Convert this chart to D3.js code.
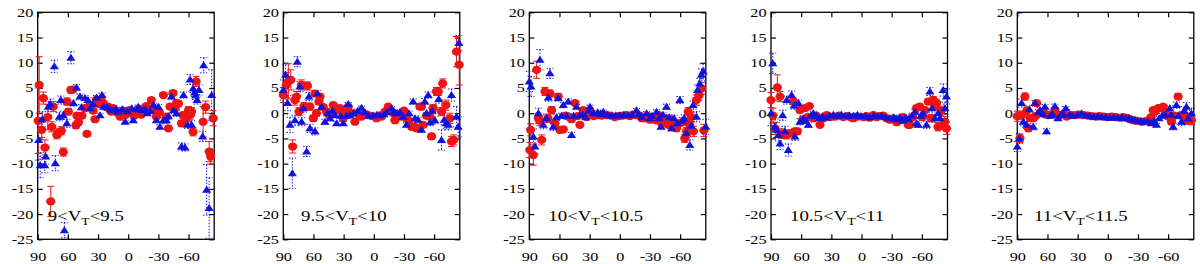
<!DOCTYPE html>
<html><head><meta charset="utf-8">
<script src="https://cdn.jsdelivr.net/npm/d3@7"></script>
<style>body{margin:0;background:#fff}svg{display:block}</style>
</head><body><svg id="c" width="1200" height="264"></svg>
<script>
// ---- data: [declination, delta, error] ----
const xTicks = [90,60,30,0,-30,-60];
const yTicks = [20,15,10,5,0,-5,-10,-15,-20,-25];
const labelLow = ["9","9.5","10","10.5","11"];
const labelHigh = ["9.5","10","10.5","11","11.5"];

const redP1 = [[89.5,-1.5,6.5],[88.5,5.6,5.6],[86,-3.3,1.5],[84.4,3,1.2],[82.8,-6.8,1.5],[80,-0.8,2.5],[77,-17.5,3],[76,-2.7,1],[74.5,1.3,1],[71,-4.3,0.8],[69.5,-3.9,0.8],[66.5,-3.5,0.8],[64.5,-7.7,0.8],[61,2.3,0.7],[59.5,0.3,0.6],[57,4.6,0.6],[55,4.7,0.6],[52,-2.4,0.6],[51,-0.5,0.5],[49.5,-1.8,0.5],[46,-0.5,0.5],[43,1,0.5],[41,-4.1,0.5],[38,1.6,0.5],[35,0.5,0.4],[33,-1.2,0.4],[31.5,2.7,0.4],[29,1.8,0.4],[27,2.6,0.4],[25,2,0.4],[22,1.2,0.3],[20,1.3,0.3],[17,0.3,0.3],[15,1,0.3],[12,0.2,0.3],[8,-0.7,0.3],[5,0.5,0.3],[3,-0.4,0.3],[0,0.5,0.3],[-3.5,0,0.3],[-6,-0.5,0.3],[-8,0.3,0.3],[-11,0.8,0.3],[-13,-0.3,0.3],[-16,0.5,0.3],[-18,1.4,0.4],[-21,0.5,0.4],[-23,2.6,0.4],[-25.5,0.6,0.4],[-28,-0.7,0.4],[-31,0.2,0.4],[-35,3.6,0.5],[-38,-0.7,0.5],[-40,-3,0.5],[-41.5,1.3,0.5],[-44.5,4,0.5],[-46.5,1,0.6],[-48,2,0.6],[-50,1.9,0.6],[-53,-2,0.6],[-54.5,-0.4,0.6],[-56.5,-0.4,0.7],[-58,-1,0.7],[-60,0.6,0.7],[-61.5,-0.4,0.8],[-63,0.3,0.8],[-64.5,-3.7,0.8],[-67.5,6.3,1],[-74.5,-1.7,3],[-77,1.2,1.2],[-80.5,-7.6,2],[-82,-8.6,1.5],[-84.5,-1,1.5]];
const blueP1 = [[89,-5.3,4],[87.5,-10.3,2.5],[85.5,-1.2,1.5],[83,-10.3,1.5],[82,-8.6,1.5],[79.5,1.3,1],[77.5,1.8,1],[73.5,9.3,1.2],[72.5,-9.9,1.5],[68.5,-0.7,0.8],[67,2.6,0.8],[64.5,-0.4,0.8],[63.5,-23.2,1.5],[61,-2,0.8],[57,11,1.2],[54.5,2,0.6],[51.5,5.1,0.6],[48,3.3,0.5],[46.5,1.2,0.5],[43,3,0.5],[40,2.6,0.5],[38,1,0.5],[35,1.8,0.4],[31.5,3.1,0.4],[28,-0.4,0.4],[26,3.6,0.4],[24.5,1.3,0.4],[21,1.2,0.3],[18,0.8,0.3],[15,0.6,0.3],[12,0.9,0.3],[10,0.3,0.3],[6,0.8,0.3],[3,-1.7,0.3],[1,0.4,0.3],[-3.5,1,0.3],[-5,-1.4,0.3],[-8,0.8,0.3],[-10,1.3,0.3],[-14,0.6,0.3],[-17,0.8,0.3],[-19,0,0.3],[-22,0.5,0.4],[-25,1.6,0.4],[-28,-1.4,0.4],[-30,1.3,0.4],[-31.5,-2.7,0.4],[-35,-1.4,0.5],[-36.5,-1.4,0.5],[-38,-1.4,0.5],[-40,-0.6,0.5],[-43,3.3,0.5],[-45,0.6,0.5],[-48,0,0.6],[-53,-6.6,0.7],[-55,3.6,0.6],[-56.5,-6.8,0.7],[-59,-2.3,0.7],[-61.5,6.7,1],[-63,-2.3,0.8],[-64.5,4.9,0.8],[-66,4.1,0.8],[-67,3.5,0.8],[-68.5,2.6,0.8],[-70.5,4.6,1],[-74,-4.6,1],[-75,9.5,1.5],[-78,-15.2,5],[-80.5,-18.8,6],[-83,3.6,5]];

const redP2 = [[90,3.6,1.5],[87,5.6,2.5],[85,6.3,3.5],[82.5,6.6,2],[80.7,-6.6,1.3],[78.4,2.6,1],[76.8,3.3,1],[74.4,0.3,0.8],[72,5.6,1],[69.5,1.3,0.8],[66,5.4,0.8],[63.5,1.3,0.7],[60.2,-1,0.6],[58.5,3.9,0.6],[57,0,0.6],[54.6,2.3,0.6],[53.5,3.3,0.5],[50.3,1.2,0.5],[47,0.3,0.5],[44,-0.5,0.4],[40.3,1.6,0.4],[37,0.5,0.4],[33.7,1,0.4],[30.4,-1,0.4],[28,0,0.3],[25.4,1.3,0.3],[22,0,0.3],[18.8,-1.7,0.3],[15,-0.3,0.3],[12.2,-0.7,0.3],[9,-0.2,0.3],[5.6,-0.4,0.3],[2,-0.6,0.3],[-2.7,-1,0.3],[-5,-0.5,0.3],[-7.7,-0.7,0.3],[-11,0.3,0.3],[-14.3,1.3,0.3],[-17,0.5,0.3],[-19.3,0,0.3],[-21,-1.4,0.3],[-24,-0.3,0.4],[-27.5,-0.7,0.4],[-30,0.5,0.4],[-32.5,-1,0.4],[-35,-1.5,0.4],[-37.5,-2.7,0.5],[-40.8,-2.7,0.5],[-42.5,-3,0.5],[-45.8,1.3,0.5],[-47.4,1.3,0.5],[-49,-2.3,0.5],[-52.4,-0.5,0.6],[-55.7,-0.7,0.6],[-57.4,-4.6,0.6],[-59,1,0.7],[-62.3,4.3,0.8],[-64,4.3,0.8],[-67.3,0.3,0.8],[-68.5,5.9,0.9],[-71.6,1.6,1],[-75.6,-1,1],[-77.3,-5.6,1],[-79.5,-5.3,1],[-82.2,12.2,3],[-84.9,9.6,4]];
const blueP2 = [[90,4.6,2],[87.7,7.6,2],[85.7,2,1.5],[83.4,-2.3,1.5],[81,-11.9,3],[78.4,-1.4,1],[76.1,10.2,1],[73.4,5.3,1],[71.8,-1.7,0.8],[70.1,1,0.8],[66.8,-7.6,1],[64.5,3.3,0.8],[63.5,-3,0.8],[58.5,-3.6,0.7],[56.2,3.9,0.6],[51.9,1.3,0.6],[48.6,-1.7,0.5],[46,0,0.5],[43.6,-1,0.5],[41,0.5,0.4],[38.7,-0.4,0.4],[37,-2,0.4],[33,-0.5,0.4],[30.4,-2,0.4],[27,-0.5,0.3],[25.4,1.8,0.3],[23.8,-0.4,0.3],[20,0,0.3],[16,0.5,0.3],[12.2,1.1,0.3],[9,0.2,0.3],[5,-0.5,0.3],[0.6,-0.4,0.3],[-3,-0.3,0.3],[-6,-0.4,0.3],[-10,-0.2,0.3],[-13,0.2,0.3],[-17.6,1,0.3],[-20,0.3,0.3],[-22.6,0,0.3],[-26,0.2,0.4],[-29.2,-0.7,0.4],[-32.5,-2.3,0.4],[-35,0,0.4],[-39.1,2.3,0.5],[-41,-1,0.5],[-44,-1.3,0.5],[-47.4,-3.3,0.5],[-50.7,2.3,0.6],[-52.4,0,0.6],[-54,3.6,0.6],[-56,-1.8,0.7],[-58,0.5,0.7],[-60.7,-1.4,0.7],[-64.6,2.8,0.8],[-67.3,-5.3,2],[-70,-1.3,1],[-72,-2,1],[-74,-2.3,1],[-77.2,3.6,1.2],[-82.2,-0.7,2],[-83.9,-2.7,2],[-84.6,13.9,1.5]];

const redP3 = [[89.5,-7.3,1.5],[88.7,-3.3,1.2],[86,-8.3,2],[82.7,8.6,1.7],[81,-1,1],[79.5,-1.5,1],[77.7,-5.3,1],[74.4,4.3,0.8],[71.5,-1,0.8],[69.5,3.9,0.7],[67.8,0.6,0.7],[64.5,-2,0.6],[61.2,3.3,0.6],[59.6,-3.3,0.6],[56.2,-3.2,0.5],[54,-0.5,0.5],[51.3,-0.7,0.5],[48,-1.2,0.4],[44.6,2,0.4],[42,-0.6,0.4],[39.7,-2.3,0.4],[36.4,0.6,0.3],[33,-0.8,0.3],[29.7,0.3,0.3],[26,-0.6,0.3],[21.5,-0.4,0.3],[18,-0.5,0.3],[13.2,-0.4,0.3],[9,-0.5,0.3],[5,-0.8,0.3],[1,-0.6,0.3],[-3,-0.5,0.3],[-6.7,-0.4,0.3],[-10,-0.6,0.3],[-13,-0.3,0.3],[-16.6,-0.4,0.3],[-20,-0.5,0.3],[-22,-1,0.3],[-25,-1,0.3],[-28,-0.6,0.3],[-30,-1.3,0.3],[-33.2,-1,0.4],[-36,-1.4,0.4],[-39,-0.4,0.4],[-41.5,-2,0.4],[-44,-1.6,0.4],[-46,-1,0.5],[-48.1,-2.3,0.5],[-51,-1.2,0.5],[-53,-2.3,0.5],[-56.4,-3,0.6],[-59,-2,0.6],[-63,-1.7,0.7],[-64.6,-5,0.8],[-66.3,-3.6,0.8],[-68,0.3,0.8],[-69.6,-2.3,0.8],[-71,-0.8,0.9],[-73.2,-3.6,1],[-76.2,2.6,1],[-78.9,3.6,1],[-81.2,4.9,1.2],[-83.6,-3.4,1.2]];
const blueP3 = [[90,6.3,2],[88.3,5.3,2],[86,-4.6,1.5],[84.4,-6.6,1.5],[81,0,1],[79.4,10.6,2],[76.1,-2.3,0.8],[73,-1,0.8],[71.1,3.1,0.7],[69.5,7.9,1],[66.2,-2.7,0.7],[63,-0.8,0.6],[61.2,3,0.6],[58,-0.5,0.5],[56.2,1.6,0.5],[53,-0.5,0.5],[51.3,2.3,0.5],[48,-4.3,0.5],[46,-0.5,0.4],[43,1.3,0.4],[40,-0.4,0.4],[37,-0.3,0.4],[34,-0.8,0.3],[31,0.5,0.3],[29.7,1.3,0.3],[26,0,0.3],[22,0.2,0.3],[19,-0.2,0.3],[16.5,0.3,0.3],[12,-0.3,0.3],[8,-0.5,0.3],[4,-0.4,0.3],[0,-0.4,0.3],[-4,-0.3,0.3],[-8,-0.4,0.3],[-12,-0.3,0.3],[-16.6,0.6,0.3],[-19,-0.2,0.3],[-22,-0.8,0.3],[-26.6,0,0.3],[-30,-1,0.3],[-32,-0.5,0.4],[-36.5,0.3,0.4],[-39,-1,0.4],[-41,-2.7,0.4],[-43,-0.3,0.4],[-46.4,1.3,0.5],[-49,-0.8,0.5],[-51.4,-3,0.5],[-54,-1,0.6],[-57,-2,0.6],[-59.7,2.6,0.7],[-62,-1.5,0.7],[-64,-1,0.7],[-66.3,-4,0.8],[-69.6,-6.3,1],[-71,-2.5,0.8],[-72.9,1.6,0.8],[-76.2,-0.7,1],[-77.2,4.6,1],[-79.5,5.9,1],[-81.2,7.6,1.2],[-82.8,8.3,1.5],[-85.5,-2.7,1.5]];

const redP4 = [[90,2.6,1.5],[88,-0.5,1.5],[86,-3,1.2],[83.7,5.1,2.5],[81,3.3,1],[79.4,-4,0.9],[76.5,-4.2,0.8],[74.4,-4.3,0.8],[71.1,-4,0.7],[67.8,2.3,0.6],[66.2,-3.6,0.6],[63.8,-3.6,0.6],[61.2,0.6,0.5],[58.5,-1.3,0.5],[56.2,1,0.5],[53.5,-0.8,0.4],[51.9,1.4,0.4],[47.9,-1,0.4],[45,-0.5,0.4],[41.3,-2.3,0.3],[38,-1,0.3],[34.7,-0.4,0.3],[31,-0.8,0.3],[26.4,-0.7,0.3],[22,-0.5,0.3],[18.1,-0.8,0.3],[14,-0.6,0.3],[11,-0.8,0.3],[8.2,-1,0.3],[4,-0.7,0.3],[-1.7,-0.8,0.3],[-5,-0.6,0.3],[-8,-0.9,0.3],[-11.7,-0.4,0.3],[-15,-0.8,0.3],[-18,-0.6,0.3],[-21.6,-0.5,0.3],[-25,-1,0.3],[-28,-1.3,0.3],[-31.5,-1,0.3],[-35,-1.8,0.3],[-38.1,-1.4,0.4],[-41,-0.8,0.4],[-43.5,-1.2,0.4],[-46.4,-2.3,0.4],[-48.1,-2.3,0.4],[-51,-0.8,0.5],[-54.7,1,0.5],[-58,1.3,0.5],[-60.5,-0.8,0.6],[-63,0.6,0.6],[-66.3,2.3,0.6],[-69,-1,0.7],[-71.3,2.6,0.7],[-73,1.5,0.8],[-74.6,2,0.8],[-76,-2.7,0.8],[-79,0.5,0.9],[-81.2,-2.3,1],[-82.8,-1.7,1],[-84.5,-3,1.2]];
const blueP4 = [[90,0,2.5],[88.3,9.9,2],[86,-2.7,1.5],[84.5,-3.3,1.5],[82.7,-4.3,1.2],[81,-6,1.2],[78.4,-0.4,1],[76.1,-3.6,1],[74.4,2.6,0.8],[72.8,-7.3,1.2],[69.5,3.6,0.8],[67,1.5,0.7],[66.2,-4.6,0.8],[62.8,2,0.6],[61.2,-1.7,0.6],[58,-1,0.5],[55.5,-1.5,0.5],[52.9,-2.3,0.5],[50.5,-0.5,0.5],[48,0,0.4],[45,-0.5,0.4],[42,-1,0.4],[39,-0.6,0.3],[35.5,-0.9,0.3],[32,-0.5,0.3],[28,-0.3,0.3],[24,-0.5,0.3],[20,-0.3,0.3],[16,-0.5,0.3],[12,-0.4,0.3],[8,-0.5,0.3],[4,-0.3,0.3],[0,-0.6,0.3],[-4,-0.5,0.3],[-8,-0.8,0.3],[-12,-0.4,0.3],[-16,-0.6,0.3],[-20,-0.5,0.3],[-24,-0.8,0.3],[-28,-1,0.3],[-32,-0.8,0.3],[-35,-1.2,0.4],[-38,-0.8,0.4],[-41,-1.5,0.4],[-44,-0.8,0.4],[-47,-1.2,0.4],[-50,-0.5,0.5],[-53,0.3,0.5],[-54.7,-2,0.5],[-56.4,-2.3,0.5],[-59,-0.5,0.6],[-61.3,0,0.6],[-64.6,-2.3,0.7],[-68,4.3,0.8],[-70,1,0.8],[-73,-1,0.8],[-76.2,0,0.9],[-78,-1,1],[-81.2,4.6,1.2],[-83,1,1.2],[-84.5,3.3,1.5]];

const redP5 = [[90,-0.6,1],[87.4,-5,0.8],[85.7,-0.4,0.8],[82.4,3.3,0.7],[80.5,0.5,0.7],[79,-3,0.6],[77.4,-1,0.6],[74.1,-1,0.5],[72,-0.6,0.5],[70.8,2,0.5],[67.5,0,0.4],[64.2,0.3,0.4],[62,-0.3,0.4],[59.2,-0.4,0.3],[56,-0.2,0.3],[52.6,0.6,0.3],[50,-0.3,0.3],[47.6,-0.4,0.3],[44,-0.2,0.3],[41,-0.7,0.3],[37,-0.4,0.3],[32.7,-0.4,0.3],[29,-0.3,0.2],[24.4,-0.4,0.2],[20,-0.5,0.2],[16,-0.6,0.2],[12,-0.7,0.2],[8,-0.6,0.2],[4,-0.7,0.2],[0,-0.8,0.2],[-4,-0.7,0.2],[-8,-0.8,0.2],[-12,-0.9,0.2],[-15.3,-0.8,0.2],[-19,-0.9,0.2],[-22,-1.2,0.2],[-25.2,-1.4,0.2],[-29,-1.5,0.2],[-33.5,-1.7,0.3],[-37,-1.6,0.3],[-40,-1.4,0.3],[-43,-0.8,0.3],[-45.1,0.6,0.3],[-46.8,0.3,0.3],[-50.1,1,0.3],[-51.7,1,0.4],[-55,1.3,0.4],[-58,0,0.4],[-60,-0.7,0.4],[-63.3,-1.7,0.5],[-66,-0.5,0.5],[-69.9,3.3,0.6],[-73.2,-0.4,0.6],[-76,-1.2,0.7],[-78.2,-1.4,0.8],[-81,-0.8,0.8],[-83.2,-1.4,0.9]];
const blueP5 = [[90,-6.6,1],[88,-5,1],[85.7,2,0.8],[84,-1.7,0.8],[80.7,-2.3,0.7],[78,0.8,0.6],[74.1,-2.7,0.6],[72.5,2,0.5],[69,0.2,0.5],[67.5,0.6,0.5],[64,-0.2,0.4],[62.5,1.3,0.4],[60.9,-3.6,0.5],[57,-0.5,0.4],[55,-0.2,0.4],[52.6,1.4,0.4],[49.5,-1,0.3],[46,-0.2,0.3],[44,-0.3,0.3],[41.7,1,0.3],[38,-0.3,0.3],[35,-0.5,0.3],[30,-0.3,0.2],[26.1,0,0.2],[22,-0.4,0.2],[18,-0.5,0.2],[14,-0.7,0.2],[10,-0.6,0.2],[6,-0.8,0.2],[2,-0.7,0.2],[-2,-0.9,0.2],[-6,-0.8,0.2],[-10,-0.9,0.2],[-14,-0.8,0.2],[-18,-1,0.2],[-21,-1,0.2],[-24,-1.2,0.2],[-27,-1.3,0.2],[-30,-1.6,0.3],[-33,-1.5,0.3],[-36,-1.7,0.3],[-40,-1.6,0.3],[-43.4,-2,0.3],[-46,-1.5,0.3],[-48.4,-2.3,0.3],[-51,-1,0.4],[-54,-0.5,0.4],[-57,-0.3,0.4],[-61.6,1,0.5],[-63,-0.3,0.5],[-65,-2.7,0.6],[-68.3,1.6,0.6],[-70,-0.5,0.6],[-73.2,-1.7,0.7],[-76,0.5,0.8],[-78.2,1.3,0.8],[-80,-1,0.9],[-83.2,0,1]];

const redSeries = [redP1, redP2, redP3, redP4, redP5];
const blueSeries = [blueP1, blueP2, blueP3, blueP4, blueP5];

// ---- layout ----
const lefts = [37.7, 283.3, 529.3, 771, 1017.3];
const labelOffsets = [10, 17.7, 19, 19, 16.7];
const PW = 176.5, TOP = 12.3, BOT = 239.3;
const RED = "#ee1414", BLUE = "#1212dd";
const FONT = "'Liberation Serif','Times New Roman',serif";
const SX = 1.3;
const svg = d3.select("#c");

redSeries.forEach((red, i) => {
  const blue = blueSeries[i];
  const L = lefts[i];
  const x = d3.scaleLinear().domain([90, -85.5]).range([L, L + PW]);
  const y = d3.scaleLinear().domain([-25, 20]).range([BOT, TOP]);
  const g = svg.append("g");

  const styleAxis = ax => {
    ax.select(".domain").remove();
    ax.selectAll(".tick line").attr("stroke", "#000").attr("stroke-width", 1.2);
    ax.attr("font-family", FONT).attr("font-size", 12.5);
    ax.selectAll("text").attr("fill", "#000").attr("transform", `scale(${SX},1)`);
  };
  const fmt = d => String(d);
  g.append("g").attr("transform", `translate(${L},0)`)
    .call(d3.axisLeft(y).tickValues(yTicks).tickSize(-5).tickPadding(3.4).tickFormat(fmt))
    .call(styleAxis);
  g.append("g").attr("transform", `translate(${L + PW},0)`)
    .call(d3.axisRight(y).tickValues(yTicks).tickSize(-5).tickFormat(""))
    .call(styleAxis);
  g.append("g").attr("transform", `translate(0,${TOP})`)
    .call(d3.axisTop(x).tickValues(xTicks).tickSize(-5).tickFormat(""))
    .call(styleAxis);
  g.append("g").attr("transform", `translate(0,${BOT})`)
    .call(d3.axisBottom(x).tickValues(xTicks).tickSize(-5).tickPadding(12.5).tickFormat(fmt))
    .call(styleAxis);

  g.append("rect").attr("x", L).attr("y", TOP).attr("width", PW).attr("height", BOT - TOP)
    .attr("fill", "none").attr("stroke", "#000").attr("stroke-width", 1.3);

  const drawErr = (data, color, dash) => {
    const eg = g.append("g").attr("stroke", color).attr("stroke-width", 1)
      .attr("stroke-dasharray", dash);
    data.forEach(d => {
      const cx = x(d[0]), y1 = y(d[1] + d[2]), y2 = y(d[1] - d[2]);
      eg.append("line").attr("x1", cx).attr("x2", cx).attr("y1", y1).attr("y2", y2);
      eg.append("line").attr("x1", cx - 3.5).attr("x2", cx + 3.5).attr("y1", y1).attr("y2", y1);
      eg.append("line").attr("x1", cx - 3.5).attr("x2", cx + 3.5).attr("y1", y2).attr("y2", y2);
    });
  };
  drawErr(blue, BLUE, "1.5,1.5");
  drawErr(red, RED, null);

  g.append("g").selectAll("ellipse").data(red).join("ellipse")
    .attr("cx", d => x(d[0])).attr("cy", d => y(d[1]))
    .attr("rx", 4.6).attr("ry", 4.1).attr("fill", RED);

  const tri = "M0,-4L4.6,3L-4.6,3Z";
  g.append("g").selectAll("path").data(blue).join("path")
    .attr("d", tri).attr("transform", d => `translate(${x(d[0])},${y(d[1])})`)
    .attr("fill", BLUE);

  const t = g.append("text")
    .attr("transform", `translate(${L + labelOffsets[i]},220.5) scale(${SX},1)`)
    .attr("font-family", FONT).attr("font-size", 14.5).attr("fill", "#000");
  t.append("tspan").text(labelLow[i] + "<V");
  t.append("tspan").attr("font-size", 10.5).attr("dy", 4.5).text("T");
  t.append("tspan").attr("dy", -4.5).text("<" + labelHigh[i]);
});
</script></body></html>
